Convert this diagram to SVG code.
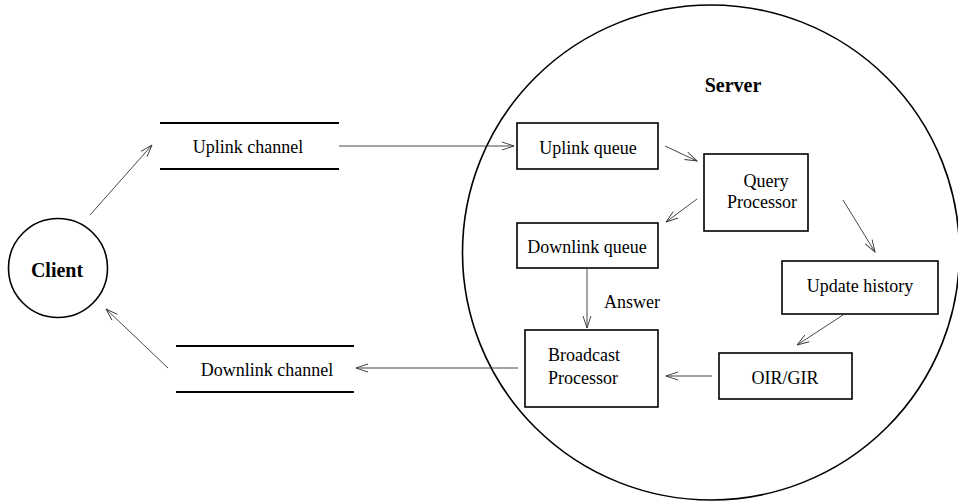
<svg xmlns="http://www.w3.org/2000/svg" width="958" height="503" viewBox="0 0 958 503">
<style>
.box{fill:none;stroke:#000;stroke-width:1.6}
.bar{stroke:#000;stroke-width:1.8}
.c{fill:none;stroke:#333;stroke-width:0.9;marker-end:url(#ah)}
</style>
<defs>
<marker id="ah" markerUnits="userSpaceOnUse" markerWidth="14" markerHeight="10" refX="12" refY="4" orient="auto" overflow="visible">
<path d="M0,0 L12,4 L0,8" fill="none" stroke="#333" stroke-width="0.9"/>
</marker>
</defs>
<rect width="958" height="503" fill="#fff"/>
<g font-family="Liberation Serif, DejaVu Serif, serif" font-size="18" fill="#000">
<g id="server">
<ellipse cx="711" cy="252.5" rx="248.5" ry="247.5" class="box"/>
<text x="733" y="92" text-anchor="middle" font-size="20" font-weight="bold">Server</text>
</g>
<g id="client">
<circle cx="58" cy="268" r="49.5" class="box"/>
<text x="57" y="277" text-anchor="middle" font-size="20" font-weight="bold">Client</text>
</g>
<g id="uplink-channel">
<line x1="160" y1="123" x2="339" y2="123" class="bar"/>
<line x1="160" y1="169" x2="339" y2="169" class="bar"/>
<text x="248" y="153" text-anchor="middle">Uplink channel</text>
</g>
<g id="downlink-channel">
<line x1="176" y1="346" x2="354" y2="346" class="bar"/>
<line x1="176" y1="392" x2="354" y2="392" class="bar"/>
<text x="267" y="376" text-anchor="middle">Downlink channel</text>
</g>
<g id="uplink-queue">
<rect x="517" y="123" width="141" height="46" class="box"/>
<text x="588" y="154" text-anchor="middle">Uplink queue</text>
</g>
<g id="query-processor">
<rect x="704" y="154" width="104" height="77" class="box"/>
<text x="766" y="187" text-anchor="middle">Query</text>
<text x="762" y="208" text-anchor="middle">Processor</text>
</g>
<g id="downlink-queue">
<rect x="517" y="223" width="141" height="45" class="box"/>
<text x="587" y="253" text-anchor="middle">Downlink queue</text>
</g>
<g id="update-history">
<rect x="782" y="261" width="156" height="53" class="box"/>
<text x="860" y="292" text-anchor="middle">Update history</text>
</g>
<g id="broadcast-processor">
<rect x="525" y="330" width="133" height="77" class="box"/>
<text x="548" y="361">Broadcast</text>
<text x="548" y="384">Processor</text>
</g>
<g id="oir-gir">
<rect x="719" y="353" width="133" height="46" class="box"/>
<text x="785" y="384" text-anchor="middle">OIR/GIR</text>
</g>
<g id="connectors">
<line x1="90" y1="215" x2="152" y2="145" class="c"/>
<line x1="168" y1="368" x2="106" y2="309" class="c"/>
<line x1="339" y1="146" x2="514" y2="146" class="c"/>
<line x1="665" y1="146" x2="697" y2="161" class="c"/>
<line x1="697" y1="199" x2="666" y2="222" class="c"/>
<line x1="843" y1="200" x2="875" y2="252" class="c"/>
<line x1="843" y1="315" x2="797" y2="345" class="c"/>
<line x1="712" y1="376" x2="666" y2="376" class="c"/>
<line x1="587" y1="268" x2="587" y2="328" class="c"/>
<line x1="518" y1="368" x2="356" y2="368" class="c"/>
<text x="604" y="308">Answer</text>
</g>
</g>
</svg>
